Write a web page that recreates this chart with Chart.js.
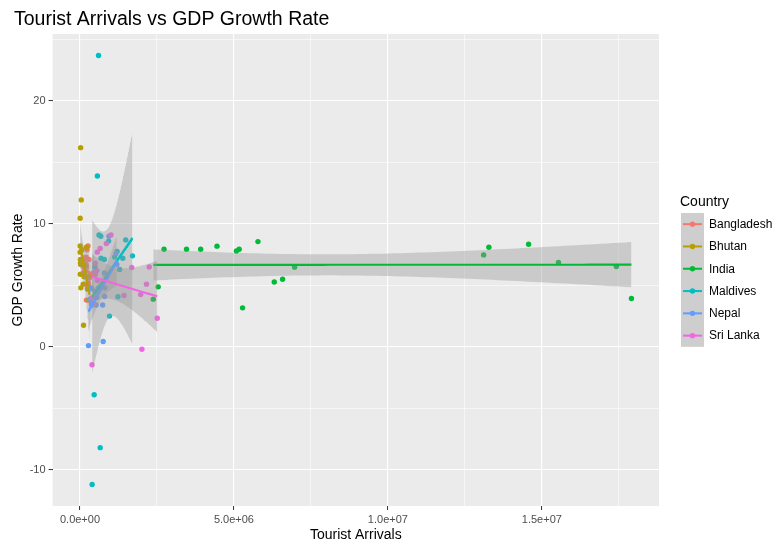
<!DOCTYPE html>
<html><head><meta charset="utf-8">
<script src="https://cdn.jsdelivr.net/npm/chart.js@4.4.0/dist/chart.umd.min.js"></script>
<style>html,body{margin:0;padding:0;background:#fff;}#wrap{width:780px;height:546px;position:relative;}</style>
</head><body><div id="wrap"><canvas id="c" width="780" height="546"></canvas></div>
<script>
// ---------- data (2001-2019) ----------
const countries = ['Bangladesh','Bhutan','India','Maldives','Nepal','Sri Lanka'];
const arrivalsBangladesh = [207000,207000,245000,271000,208000,200000,289000,467000,267000,303000,155000,125000,148000,125000,140000,170000,200000,230000,260000];
const gdpBangladesh      = [5.1,3.8,4.7,5.2,6.5,6.7,7.1,6.0,5.0,5.6,6.5,6.5,6.0,6.1,6.6,7.1,7.3,7.9,8.2];
const arrivalsBhutan     = [6400,5600,6300,9200,13600,17300,21100,27600,23500,41000,65000,105000,116000,133000,155000,210000,255000,274000,316000];
const gdpBhutan          = [8.2,10.46,7.7,5.9,7.1,6.8,16.2,4.8,6.7,11.95,7.9,5.1,1.76,5.7,6.6,8.1,4.7,3.8,5.8];
const arrivalsIndia      = [2540000,2380000,2730000,3460000,3920000,4450000,5080000,5280000,5170000,5780000,6310000,6580000,6970000,13110000,13280000,14570000,15540000,17420000,17910000];
const gdpIndia           = [4.88,3.88,7.94,7.94,7.94,8.19,7.8,3.17,7.94,8.56,5.28,5.5,6.48,7.48,8.1,8.35,6.86,6.53,3.93];
const arrivalsMaldives   = [461000,485000,564000,617000,395000,602000,676000,683000,656000,792000,931000,958000,1125000,1205000,1234000,1286000,1390000,1484000,1703000];
const gdpMaldives        = [-3.9,6.5,13.9,9.1,-11.2,23.7,9.0,7.2,-8.2,7.1,8.6,2.5,7.3,7.75,4.07,6.3,7.2,8.7,7.4];
const arrivalsNepal      = [361000,275000,338000,385000,375000,384000,527000,500000,510000,603000,736000,803000,798000,790000,539000,753000,940000,1173000,1197000];
const gdpNepal           = [4.8,0.1,3.9,4.7,3.5,3.4,3.4,6.1,4.5,4.8,3.4,4.8,4.1,6.0,4.0,0.43,9.0,7.6,6.7];
const arrivalsSriLanka   = [390000,393000,501000,566000,549000,560000,494000,438000,448000,654000,856000,1006000,1430000,1680000,1970000,2160000,2250000,2510000,2010000];
const gdpSriLanka        = [-1.46,4.0,5.9,5.4,6.2,7.7,6.8,6.0,3.5,8.0,8.4,9.1,4.17,6.45,4.25,5.1,6.5,2.33,-0.2];

const xMajorBreaks = [0, 5000000, 10000000, 15000000];
const xTickLabels  = ['0.0e+00','5.0e+06','1.0e+07','1.5e+07'];
const yMajorBreaks = [-10, 0, 10, 20];
const yTickLabels  = ['-10','0','10','20'];

// ---------- styling ----------
const palette = ['#F8766D','#B79F00','#00BA38','#00BFC4','#619CFF','#F564E3'];
const FONT = "'Liberation Sans', Arial, Helvetica, sans-serif";
Chart.defaults.font.family = FONT;

const seriesX = [arrivalsBangladesh, arrivalsBhutan, arrivalsIndia, arrivalsMaldives, arrivalsNepal, arrivalsSriLanka];
const seriesY = [gdpBangladesh, gdpBhutan, gdpIndia, gdpMaldives, gdpNepal, gdpSriLanka];

function tQuant975(df){
  const z = 1.959964;
  const g1 = (Math.pow(z,3)+z)/4;
  const g2 = (5*Math.pow(z,5)+16*Math.pow(z,3)+3*z)/96;
  const g3 = (3*Math.pow(z,7)+19*Math.pow(z,5)+17*Math.pow(z,3)-15*z)/384;
  return z + g1/df + g2/(df*df) + g3/(df*df*df);
}
function lmFit(xs, ys, nOut){
  const n = xs.length;
  const mx = xs.reduce((a,b)=>a+b,0)/n, my = ys.reduce((a,b)=>a+b,0)/n;
  let sxx=0, sxy=0;
  for(let i=0;i<n;i++){ sxx += (xs[i]-mx)**2; sxy += (xs[i]-mx)*(ys[i]-my); }
  const b = sxy/sxx, a = my - b*mx;
  let sse = 0;
  for(let i=0;i<n;i++){ sse += (ys[i]-a-b*xs[i])**2; }
  const s = Math.sqrt(sse/(n-2)), t = tQuant975(n-2);
  const lo = Math.min(...xs), hi = Math.max(...xs);
  const fit=[], up=[], dn=[];
  for(let k=0;k<nOut;k++){
    const x = lo + (hi-lo)*k/(nOut-1);
    const yh = a + b*x;
    const se = s*Math.sqrt(1/n + (x-mx)**2/sxx);
    fit.push({x, y: yh}); up.push({x, y: yh + t*se}); dn.push({x, y: yh - t*se});
  }
  return {fit, up, dn};
}

const fits = seriesX.map((xs,g)=>lmFit(xs, seriesY[g], 80));

// scale limits (ggplot-style 5% expansion over all layers)
let xmin=Infinity,xmax=-Infinity,ymin=Infinity,ymax=-Infinity;
seriesX.forEach((xs,g)=>{ xs.forEach((x,i)=>{ xmin=Math.min(xmin,x); xmax=Math.max(xmax,x); ymin=Math.min(ymin,seriesY[g][i]); ymax=Math.max(ymax,seriesY[g][i]); }); });
fits.forEach(f=>{ f.up.forEach(p=>ymax=Math.max(ymax,p.y)); f.dn.forEach(p=>ymin=Math.min(ymin,p.y)); });
const xr = xmax-xmin, yr = ymax-ymin;
const X0 = xmin-0.05*xr, X1 = xmax+0.05*xr, Y0 = ymin-0.05*yr, Y1 = ymax+0.05*yr;

function withMinor(majors, lo, hi){
  const step = majors[1]-majors[0];
  const all = [];
  for(let v = majors[0]-step; v <= majors[majors.length-1]+step+1e-9; v += step/2){
    if(v>=lo && v<=hi) all.push(Math.round(v*1e6)/1e6);
  }
  return all;
}
const xBreaksAll = withMinor(xMajorBreaks, X0, X1);
const yBreaksAll = withMinor(yMajorBreaks, Y0, Y1);
const isMajorX = v => xMajorBreaks.some(m=>Math.abs(m-v)<1e-6);
const isMajorY = v => yMajorBreaks.some(m=>Math.abs(m-v)<1e-6);

// ---------- datasets ----------
const datasets = [];
seriesX.forEach((xs,g)=>{
  datasets.push({
    label: countries[g], data: xs.map((x,i)=>({x, y: seriesY[g][i]})),
    showLine:false, pointRadius:2.7, pointBackgroundColor:palette[g], pointBorderWidth:0,
    borderColor:palette[g], order: 100-g
  });
});
fits.forEach((f,g)=>{
  const upIdx = datasets.length;
  datasets.push({ label: countries[g]+' upper', data:f.up, showLine:true, pointRadius:0, borderWidth:0,
    borderColor:'rgba(0,0,0,0)', backgroundColor:'rgba(153,153,153,0.4)', fill: upIdx+1, tension:0, order: 60-3*g-1 });
  datasets.push({ label: countries[g]+' lower', data:f.dn, showLine:true, pointRadius:0, borderWidth:0,
    borderColor:'rgba(0,0,0,0)', fill:false, tension:0, order: 60-3*g });
  datasets.push({ label: countries[g]+' fit', data:f.fit, showLine:true, pointRadius:0, borderWidth:2.1,
    borderColor:palette[g], fill:false, tension:0, order: 60-3*g-2 });
});

// ---------- plugins ----------
const panelBg = {
  id:'panelBg',
  beforeDraw(chart){
    const {ctx, chartArea:a} = chart;
    ctx.save(); ctx.fillStyle='#EBEBEB'; ctx.fillRect(a.left, a.top, a.right-a.left, a.bottom-a.top); ctx.restore();
  }
};
const titleAndLegend = {
  id:'titleAndLegend',
  afterDraw(chart){
    const ctx = chart.ctx;
    ctx.save();
    ctx.fillStyle='#000'; ctx.textBaseline='alphabetic'; ctx.textAlign='left';
    ctx.font = "19.5px " + FONT;
    ctx.fillText('Tourist Arrivals vs GDP Growth Rate', 14, 25);
    // legend
    ctx.font = "14px " + FONT;
    ctx.textBaseline='middle';
    ctx.fillText('Country', 680, 202);
    const kx = 681, kw = 23, kh = 22.3, ky = 213;
    ctx.fillStyle = '#F2F2F2'; ctx.fillRect(kx, ky, kw, kh*countries.length);
    ctx.fillStyle = 'rgba(153,153,153,0.4)'; ctx.fillRect(kx, ky, kw, kh*countries.length);
    ctx.font = "12px " + FONT;
    countries.forEach((c,g)=>{
      const cy = ky + kh*g + kh/2;
      ctx.strokeStyle = palette[g]; ctx.lineWidth = 2;
      ctx.beginPath(); ctx.moveTo(kx+2, cy); ctx.lineTo(kx+kw-2, cy); ctx.stroke();
      ctx.fillStyle = palette[g]; ctx.beginPath(); ctx.arc(kx+kw/2, cy, 2.7, 0, Math.PI*2); ctx.fill();
      ctx.fillStyle = '#000'; ctx.fillText(c, 709, cy+0.5);
    });
    ctx.restore();
  }
};

new Chart(document.getElementById('c'), {
  type:'line',
  data:{ datasets },
  plugins:[panelBg, titleAndLegend],
  options:{
    responsive:false, animation:false, events:[],
    layout:{ padding:{ left:8, right:121, top:34, bottom:0 } },
    plugins:{ legend:{display:false}, tooltip:{enabled:false}, title:{display:false},
      filler:{ drawTime:'beforeDatasetDraw' } },
    scales:{
      x:{
        type:'linear', min:X0, max:X1,
        afterBuildTicks: s => { s.ticks = xBreaksAll.map(v=>({value:v})); },
        afterFit: s => { s.height = 40; },
        border:{display:false},
        grid:{ color:'#FFFFFF', lineWidth: c => isMajorX(c.tick.value) ? 1.1 : 0.55,
          tickColor: c => isMajorX(c.tick.value) ? '#333333' : 'rgba(0,0,0,0)', tickLength:4, tickWidth:1 },
        ticks:{ autoSkip:false, maxRotation:0, minRotation:0, padding:3, color:'#4D4D4D', font:{size:11},
          callback: v => { const i = xMajorBreaks.findIndex(m=>Math.abs(m-v)<1e-6); return i>=0 ? xTickLabels[i] : ''; } },
        title:{ display:true, text:'Tourist Arrivals', color:'#000', font:{size:14}, padding:{top:0,bottom:2} }
      },
      y:{
        type:'linear', min:Y0, max:Y1,
        afterBuildTicks: s => { s.ticks = yBreaksAll.map(v=>({value:v})); },
        afterFit: s => { s.width = 44.6; },
        border:{display:false},
        grid:{ color:'#FFFFFF', lineWidth: c => isMajorY(c.tick.value) ? 1.1 : 0.55,
          tickColor: c => isMajorY(c.tick.value) ? '#333333' : 'rgba(0,0,0,0)', tickLength:4, tickWidth:1 },
        ticks:{ autoSkip:false, padding:3, color:'#4D4D4D', font:{size:11},
          callback: v => { const i = yMajorBreaks.findIndex(m=>Math.abs(m-v)<1e-6); return i>=0 ? yTickLabels[i] : ''; } },
        title:{ display:true, text:'GDP Growth Rate', color:'#000', font:{size:14}, padding:{top:2,bottom:0} }
      }
    }
  }
});
</script></body></html>
